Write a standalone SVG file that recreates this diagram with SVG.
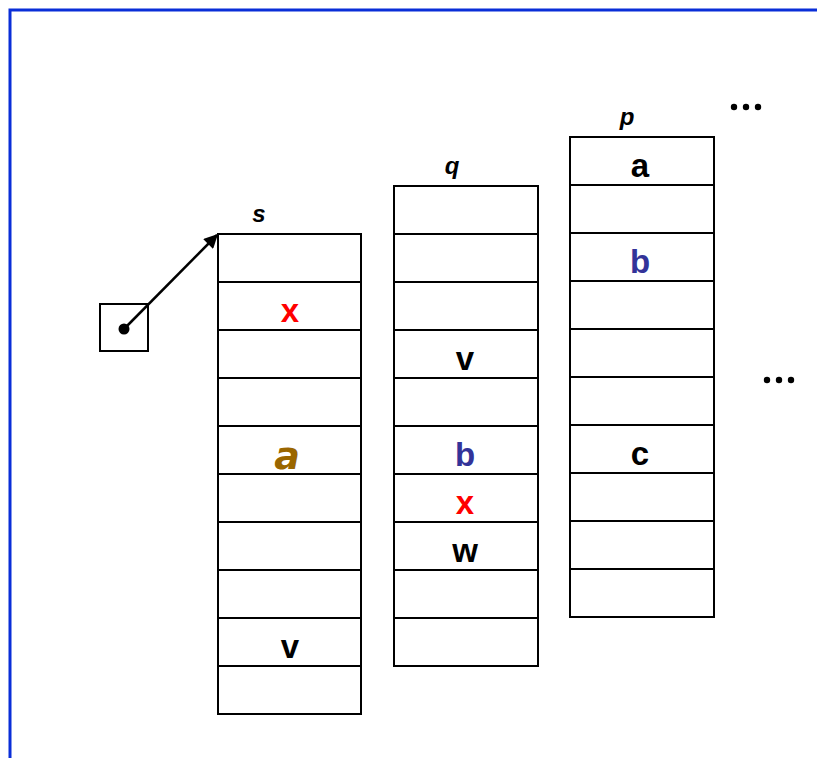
<svg xmlns="http://www.w3.org/2000/svg" width="817" height="758" viewBox="0 0 817 758">
  <style>
    .cell { fill: #ffffff; stroke: #000000; stroke-width: 2; }
    .name { font-family: "Liberation Sans", Arial, sans-serif; font-size: 24px; font-style: italic; font-weight: bold; text-anchor: middle; fill: #000; }
    .val { font-family: "Liberation Sans", Arial, sans-serif; font-size: 33px; font-weight: bold; text-anchor: middle; fill: #000; }
    .blue { fill: #333399; }
    .red { fill: #ff0000; }
    .ital { font-family: "DejaVu Sans", sans-serif; font-style: italic; font-weight: bold; font-size: 38px; fill: #9a6600; }
    .dots { fill: #000; }
  </style>
  <defs>
    <marker id="arrow" viewBox="0 0 10 10" refX="9" refY="5" markerWidth="17" markerHeight="14" markerUnits="userSpaceOnUse" orient="auto">
      <path d="M0,0 L10,5 L0,10 z" fill="#000"/>
    </marker>
    <g id="dots3">
      <circle cx="-12" cy="0" r="3.2"/>
      <circle cx="0" cy="0" r="3.2"/>
      <circle cx="12" cy="0" r="3.2"/>
    </g>
  </defs>

  <rect width="817" height="758" fill="#ffffff"/>
  <!-- frame -->
  <path d="M10,758 L10,10 L817,10" fill="none" stroke="#0a2ed8" stroke-width="3"/>

  <!-- pointer -->
  <g id="pointer">
    <rect class="cell" x="100" y="304" width="48" height="47"/>
    <circle cx="124" cy="329" r="5.5" fill="#000"/>
  </g>

  <!-- column s -->
  <g id="s">
    <text class="name" x="259" y="222">s</text>
    <rect class="cell" x="218" y="234" width="143" height="48"/>
    <rect class="cell" x="218" y="282" width="143" height="48"/>
    <rect class="cell" x="218" y="330" width="143" height="48"/>
    <rect class="cell" x="218" y="378" width="143" height="48"/>
    <rect class="cell" x="218" y="426" width="143" height="48"/>
    <rect class="cell" x="218" y="474" width="143" height="48"/>
    <rect class="cell" x="218" y="522" width="143" height="48"/>
    <rect class="cell" x="218" y="570" width="143" height="48"/>
    <rect class="cell" x="218" y="618" width="143" height="48"/>
    <rect class="cell" x="218" y="666" width="143" height="48"/>
    <text class="val red" x="290" y="322">x</text>
    <text class="val ital" x="287" y="469">a</text>
    <text class="val" x="290" y="658">v</text>
  </g>

  <!-- column q -->
  <g id="q">
    <text class="name" x="452" y="174">q</text>
    <rect class="cell" x="394" y="186" width="144" height="48"/>
    <rect class="cell" x="394" y="234" width="144" height="48"/>
    <rect class="cell" x="394" y="282" width="144" height="48"/>
    <rect class="cell" x="394" y="330" width="144" height="48"/>
    <rect class="cell" x="394" y="378" width="144" height="48"/>
    <rect class="cell" x="394" y="426" width="144" height="48"/>
    <rect class="cell" x="394" y="474" width="144" height="48"/>
    <rect class="cell" x="394" y="522" width="144" height="48"/>
    <rect class="cell" x="394" y="570" width="144" height="48"/>
    <rect class="cell" x="394" y="618" width="144" height="48"/>
    <text class="val" x="465" y="370">v</text>
    <text class="val blue" x="465" y="466">b</text>
    <text class="val red" x="465" y="514">x</text>
    <text class="val" x="465" y="562">w</text>
  </g>

  <!-- column p -->
  <g id="p">
    <text class="name" x="627" y="125">p</text>
    <rect class="cell" x="570" y="137" width="144" height="48"/>
    <rect class="cell" x="570" y="185" width="144" height="48"/>
    <rect class="cell" x="570" y="233" width="144" height="48"/>
    <rect class="cell" x="570" y="281" width="144" height="48"/>
    <rect class="cell" x="570" y="329" width="144" height="48"/>
    <rect class="cell" x="570" y="377" width="144" height="48"/>
    <rect class="cell" x="570" y="425" width="144" height="48"/>
    <rect class="cell" x="570" y="473" width="144" height="48"/>
    <rect class="cell" x="570" y="521" width="144" height="48"/>
    <rect class="cell" x="570" y="569" width="144" height="48"/>
    <text class="val" x="640" y="177">a</text>
    <text class="val blue" x="640" y="273">b</text>
    <text class="val" x="640" y="465">c</text>
  </g>

  <!-- continuation marks -->
  <g id="more-top" class="dots"><use href="#dots3" x="746" y="107"/></g>
  <g id="more-right" class="dots"><use href="#dots3" x="779" y="380"/></g>

  <!-- connectors -->
  <g id="connectors">
    <line x1="124" y1="329" x2="217" y2="235" stroke="#000" stroke-width="2.5" marker-end="url(#arrow)"/>
  </g>
</svg>
